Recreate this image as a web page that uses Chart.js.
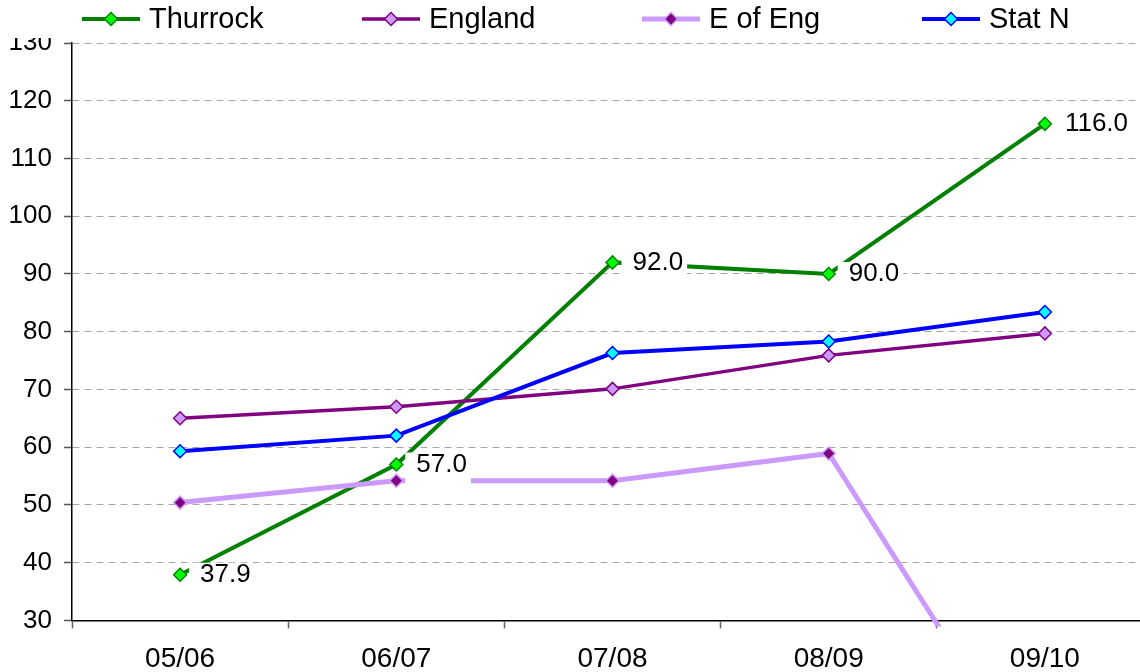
<!DOCTYPE html>
<html>
<head>
<meta charset="utf-8">
<script src="https://cdn.jsdelivr.net/npm/chart.js@4/dist/chart.umd.min.js"></script>
<style>
  html, body { margin: 0; padding: 0; background: #fff; overflow: hidden; width: 1140px; height: 672px; }
  #c { position: absolute; left: 0; top: 0; }
</style>
</head>
<body>
<canvas id="c" width="1161" height="690"></canvas>
<script>
const categories = ['05/06', '06/07', '07/08', '08/09', '09/10'];
const thurrock = [37.9, 57.0, 92.0, 90.0, 116.0];
const england = [65.0, 67.0, 70.1, 75.9, 79.7];
const eastOfEngland = [50.4, 54.2, 54.2, 58.9, 0];
const statN = [59.3, 62.0, 76.3, 78.3, 83.4];
const seriesNames = ['Thurrock', 'England', 'E of Eng', 'Stat N'];
const yMin = 30, yMax = 130, yStep = 10;

const FONT = "'Liberation Sans', Arial, sans-serif";

const styles = [
  { line: '#008000', fill: '#00ff00', width: 4 },
  { line: '#800080', fill: '#cc99ff', width: 3.5 },
  { line: '#cc99ff', fill: '#800080', width: 5 },
  { line: '#0000ff', fill: '#00ffff', width: 4 }
];

function makeDataset(name, data, st, order) {
  return {
    label: name,
    data: data,
    borderColor: st.line,
    backgroundColor: st.fill,
    borderWidth: st.width,
    pointStyle: 'rectRot',
    pointRadius: 6.5,
    pointHoverRadius: 6.5,
    pointBackgroundColor: st.fill,
    pointBorderColor: st.line,
    pointBorderWidth: 1.5,
    tension: 0,
    fill: false,
    order: order
  };
}

const datasets = [
  makeDataset(seriesNames[0], thurrock, styles[0], 4),
  makeDataset(seriesNames[1], england, styles[1], 3),
  Object.assign(makeDataset(seriesNames[2], eastOfEngland, styles[2], 2), { clip: { left: 10, top: 10, right: 10, bottom: 6 } }),
  makeDataset(seriesNames[3], statN, styles[3], 1)
];

const customLegend = {
  id: 'customLegend',
  afterDraw(chart) {
    const ctx = chart.ctx;
    ctx.save();
    // hide the part of the top tick label under the legend band
    ctx.fillStyle = '#fff';
    ctx.fillRect(0, 0, chart.chartArea.left - 12, chart.chartArea.top - 5);
    const y = 19, start = 82, step = 280, lineLen = 58;
    ctx.font = '29px ' + FONT;
    ctx.textBaseline = 'middle';
    ctx.textAlign = 'left';
    chart.data.datasets.forEach((ds, i) => {
      const x0 = start + i * step;
      ctx.strokeStyle = ds.borderColor;
      ctx.lineWidth = ds.borderWidth;
      ctx.beginPath();
      ctx.moveTo(x0, y);
      ctx.lineTo(x0 + lineLen, y);
      ctx.stroke();
      const cx = x0 + lineLen / 2, r = 6.5;
      ctx.beginPath();
      ctx.moveTo(cx, y - r); ctx.lineTo(cx + r, y); ctx.lineTo(cx, y + r); ctx.lineTo(cx - r, y); ctx.closePath();
      ctx.fillStyle = ds.pointBackgroundColor;
      ctx.fill();
      ctx.lineWidth = 1.5;
      ctx.strokeStyle = ds.pointBorderColor;
      ctx.stroke();
      ctx.fillStyle = '#000';
      ctx.fillText(ds.label, x0 + lineLen + 9, y + 1);
    });
    ctx.restore();
  }
};

const valueLabels = {
  id: 'valueLabels',
  afterDatasetsDraw(chart) {
    const ctx = chart.ctx;
    const meta = chart.getDatasetMeta(0);
    const vals = chart.data.datasets[0].data;
    ctx.save();
    ctx.font = '26px ' + FONT;
    ctx.textBaseline = 'middle';
    ctx.textAlign = 'left';
    meta.data.forEach((pt, i) => {
      const txt = Number(vals[i]).toFixed(1);
      const tx = pt.x + 20;
      const w = ctx.measureText(txt).width;
      ctx.fillStyle = '#fff';
      ctx.fillRect(pt.x + 9, pt.y - 12, tx + w + 4 - (pt.x + 9), 33);
      ctx.fillStyle = '#000';
      ctx.fillText(txt, tx, pt.y);
    });
    ctx.restore();
  }
};

new Chart(document.getElementById('c'), {
  type: 'line',
  data: { labels: categories, datasets: datasets },
  options: {
    responsive: false,
    animation: false,
    devicePixelRatio: 1,
    layout: { padding: { top: 43, left: 0, right: 0, bottom: 0 } },
    plugins: { legend: { display: false }, tooltip: { enabled: false } },
    scales: {
      x: {
        offset: true,
        grid: { display: true, drawOnChartArea: false, offset: true, tickLength: 8, tickColor: '#666', tickWidth: 1.5 },
        border: { color: '#000', width: 1.5 },
        ticks: { color: '#000', font: { family: FONT, size: 28 }, padding: 14, maxRotation: 0 }
      },
      y: {
        min: yMin, max: yMax,
        afterFit(scale) { scale.width = 72; },
        grid: { color: '#a6a6a6', lineWidth: 1, tickLength: 8, tickColor: '#555', tickWidth: 1.5, tickBorderDash: [] },
        border: { color: '#000', width: 1.5, dash: [7, 5] },
        ticks: { stepSize: yStep, color: '#000', font: { family: FONT, size: 26 }, padding: 12 }
      }
    }
  },
  plugins: [valueLabels, customLegend]
});
</script>
</body>
</html>
